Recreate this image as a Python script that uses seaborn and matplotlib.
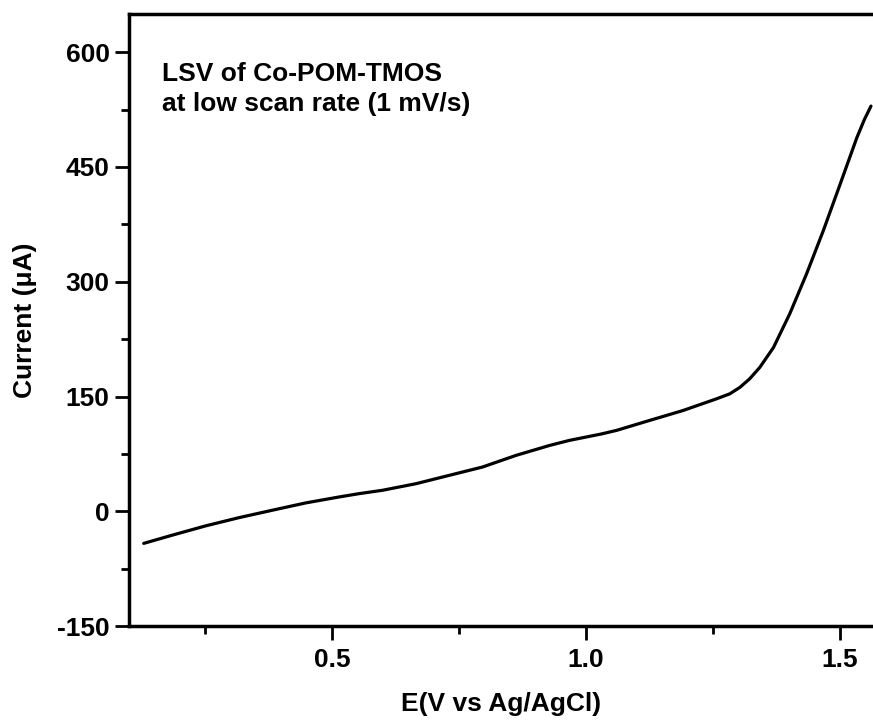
import matplotlib
matplotlib.use("Agg")
import matplotlib.pyplot as plt
from matplotlib.ticker import MultipleLocator
import seaborn as sns
import pandas as pd

potential = [0.129, 0.185, 0.251, 0.317, 0.382, 0.448, 0.514, 0.553, 0.599, 0.665, 0.731,
             0.796, 0.862, 0.928, 0.967, 1.000, 1.030, 1.060, 1.125, 1.191, 1.257, 1.283,
             1.303, 1.322, 1.342, 1.369, 1.401, 1.434, 1.467, 1.500, 1.533, 1.548, 1.561]
current = [-42, -31.3, -19.1, -8.3, 1.3, 10.9, 18.7, 23, 27.4, 36, 47,
           57.8, 73, 86, 92.6, 97, 101, 105.7, 118.7, 131.7, 147, 153.5,
           162, 173, 188, 214, 258, 310, 366.5, 427, 488, 512, 529.6]

df = pd.DataFrame({"E": potential, "I": current})

sns.set_style("ticks")
plt.rcParams['font.family'] = ['Liberation Sans', 'DejaVu Sans']
plt.rcParams['font.weight'] = 'bold'
plt.rcParams['text.color'] = 'black'
plt.rcParams['axes.labelcolor'] = 'black'
plt.rcParams['xtick.color'] = 'black'
plt.rcParams['ytick.color'] = 'black'

fig = plt.figure(figsize=(8.73, 7.22), dpi=100)
ax = fig.add_axes([129/873, 1 - 626/722, 1 - 129/873, (626 - 14)/722])

sns.lineplot(data=df, x="E", y="I", ax=ax, color="black", linewidth=2.3, sort=False)

ax.set_xlim(0.1, 1.565)
ax.set_ylim(-150, 650)
ax.set_xticks([0.5, 1.0, 1.5])
ax.set_xticklabels(["0.5", "1.0", "1.5"])
ax.set_yticks([-150, 0, 150, 300, 450, 600])
ax.set_yticklabels(["-150", "0", "150", "300", "450", "600"])
ax.xaxis.set_minor_locator(MultipleLocator(0.25))
ax.yaxis.set_minor_locator(MultipleLocator(75))

ax.tick_params(which="major", direction="out", length=10, width=2, labelsize=19)
ax.tick_params(axis="y", which="major", pad=4)
ax.tick_params(axis="x", which="major", pad=6)
ax.tick_params(which="minor", direction="out", length=6, width=2)
ax.tick_params(axis="x", which="both", top=False)
ax.tick_params(axis="y", which="both", right=False)
for lab in ax.get_xticklabels() + ax.get_yticklabels():
    lab.set_fontweight("bold")

for side in ["left", "bottom", "top"]:
    ax.spines[side].set_linewidth(2.5)
    ax.spines[side].set_color("black")
ax.spines["right"].set_visible(False)

ax.set_xlabel("E(V vs Ag/AgCl)", fontsize=19, fontweight="bold", labelpad=14)
ax.set_ylabel("Current (\u03bcA)", fontsize=19, fontweight="bold", labelpad=14)

fig.text(162/873, 1 - 62/722, "LSV of Co-POM-TMOS\nat low scan rate (1 mV/s)",
         fontsize=19, fontweight="bold", va="top", ha="left", linespacing=1.3)

fig.savefig("out.png", dpi=100)
